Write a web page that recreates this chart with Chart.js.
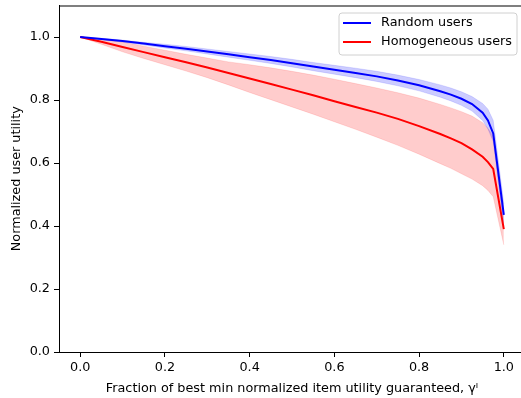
<!DOCTYPE html>
<html>
<head>
<meta charset="utf-8">
<script src="https://cdn.jsdelivr.net/npm/chart.js@4.4.0/dist/chart.umd.min.js"></script>
<style>
    html, body { margin: 0; padding: 0; overflow: hidden; background: #fff; }
    #wrap { position: absolute; left: 0; top: 0; width: 530px; height: 398px; }
</style>
</head>
<body>
<div id="wrap"><canvas id="utilityChart"></canvas></div>
<script>
// Fraction of best min normalized item utility (gamma)
const gammas = [0, 0.05, 0.1, 0.15, 0.2, 0.25, 0.3, 0.35, 0.4, 0.45, 0.5,
    0.55, 0.6, 0.65, 0.7, 0.75, 0.8, 0.85, 0.875, 0.9, 0.925, 0.95, 0.9625, 0.975, 1.0];

// Random users: mean and band
const randomMean = [1.0, 0.994, 0.987, 0.979, 0.971, 0.963, 0.954, 0.945, 0.936, 0.927, 0.917,
    0.906, 0.896, 0.886, 0.875, 0.862, 0.847, 0.828, 0.817, 0.804, 0.787, 0.760, 0.735, 0.694, 0.435];
const randomUpper = [1.0, 0.996, 0.990, 0.983, 0.977, 0.970, 0.962, 0.954, 0.946, 0.938, 0.929,
    0.919, 0.910, 0.901, 0.891, 0.879, 0.865, 0.848, 0.838, 0.826, 0.811, 0.789, 0.771, 0.735, 0.470];
const randomLower = [1.0, 0.992, 0.984, 0.975, 0.965, 0.956, 0.946, 0.936, 0.926, 0.916, 0.905,
    0.893, 0.882, 0.871, 0.859, 0.845, 0.829, 0.809, 0.797, 0.783, 0.765, 0.735, 0.708, 0.668, 0.400];

// Homogeneous users: mean and band
const homoMean = [1.0, 0.985, 0.968, 0.952, 0.936, 0.920, 0.903, 0.886, 0.868, 0.851, 0.833,
    0.815, 0.796, 0.778, 0.760, 0.740, 0.717, 0.692, 0.678, 0.663, 0.643, 0.620, 0.603, 0.581, 0.390];
const homoUpper = [1.0, 0.993, 0.984, 0.971, 0.958, 0.945, 0.933, 0.921, 0.912, 0.902, 0.891,
    0.879, 0.866, 0.852, 0.838, 0.823, 0.806, 0.786, 0.775, 0.763, 0.749, 0.728, 0.710, 0.685, 0.440];
const homoLower = [1.0, 0.977, 0.953, 0.932, 0.912, 0.892, 0.871, 0.848, 0.824, 0.801, 0.778,
    0.755, 0.731, 0.707, 0.682, 0.656, 0.628, 0.598, 0.583, 0.566, 0.549, 0.528, 0.513, 0.493, 0.340];

const xTicks = [0, 0.2, 0.4, 0.6, 0.8, 1.0];
const yTicks = [0, 0.2, 0.4, 0.6, 0.8, 1.0];

const FONT = { family: 'DejaVu Sans', size: 12.8 };

function pts(values) {
    return gammas.map((g, i) => ({ x: g, y: values[i] }));
}

function band(values, color) {
    return {
        data: pts(values),
        borderColor: color,
        borderWidth: 0.6,
        pointRadius: 0,
        fill: false,
        order: 2
    };
}

// top/right spines and in-axes legend, matplotlib style
const framePlugin = {
    id: 'frame',
    afterDraw(chart) {
        const { ctx, chartArea: a } = chart;
        ctx.save();
        ctx.strokeStyle = '#000';
        ctx.lineWidth = 1;
        ctx.strokeRect(a.left + 0.5, a.top + 0.5, a.right - a.left, a.bottom - a.top);

        const items = chart.data.datasets.filter(d => d.label);
        ctx.font = FONT.size + 'px ' + FONT.family;
        const textW = Math.max(...items.map(d => ctx.measureText(d.label).width));
        const w = 4 + 28 + 10 + textW + 5;
        const h = 42;
        const x0 = a.right - 8 - w;
        const y0 = a.top + 7.5;
        ctx.fillStyle = 'rgba(255,255,255,0.8)';
        ctx.strokeStyle = '#d0d0d0';
        ctx.beginPath();
        ctx.roundRect(x0, y0, w, h, 3);
        ctx.fill();
        ctx.stroke();
        items.forEach((d, i) => {
            const y = y0 + 10 + i * 19;
            ctx.strokeStyle = d.borderColor;
            ctx.lineWidth = 2;
            ctx.beginPath();
            ctx.moveTo(x0 + 4, y);
            ctx.lineTo(x0 + 32, y);
            ctx.stroke();
            ctx.fillStyle = '#000';
            ctx.textBaseline = 'middle';
            ctx.fillText(d.label, x0 + 42, y);
        });
        ctx.restore();
    }
};

const ctx = document.getElementById('utilityChart').getContext('2d');

new Chart(ctx, {
    type: 'line',
    data: {
        datasets: [
            band(randomLower, 'rgba(0, 0, 255, 0.2)'),
            Object.assign(band(randomUpper, 'rgba(0, 0, 255, 0.2)'), { fill: '-1', backgroundColor: 'rgba(0, 0, 255, 0.2)' }),
            band(homoLower, 'rgba(255, 0, 0, 0.2)'),
            Object.assign(band(homoUpper, 'rgba(255, 0, 0, 0.2)'), { fill: '-1', backgroundColor: 'rgba(255, 0, 0, 0.2)' }),
            {
                label: 'Random users',
                data: pts(randomMean),
                borderColor: '#0000ff',
                borderWidth: 2,
                pointRadius: 0,
                fill: false,
                order: 0
            },
            {
                label: 'Homogeneous users',
                data: pts(homoMean),
                borderColor: '#ff0000',
                borderWidth: 2,
                pointRadius: 0,
                fill: false,
                order: 1
            }
        ]
    },
    options: {
        responsive: true,
        maintainAspectRatio: false,
        animation: false,
        layout: { padding: { top: 5.5, right: 5, left: 0, bottom: 0 } },
        plugins: {
            legend: { display: false },
            tooltip: { enabled: false }
        },
        scales: {
            x: {
                type: 'linear',
                min: -0.05,
                max: 1.05,
                afterBuildTicks: s => { s.ticks = xTicks.map(v => ({ value: v })); },
                afterFit: s => { s.height = 46; s.paddingLeft = 0; s.paddingRight = 0; },
                grid: { drawOnChartArea: false, color: '#000', tickLength: 5 },
                border: { color: '#000' },
                ticks: {
                    color: '#000',
                    font: FONT,
                    padding: 3,
                    maxRotation: 0,
                    callback: v => v.toFixed(1)
                },
                title: {
                    display: true,
                    text: 'Fraction of best min normalized item utility guaranteed, γᴵ',
                    color: '#000',
                    font: FONT,
                    padding: { top: 0, bottom: 1.3 }
                }
            },
            y: {
                type: 'linear',
                min: 0,
                max: 1.1,
                afterBuildTicks: s => { s.ticks = yTicks.map(v => ({ value: v })); },
                afterFit: s => { s.width = 59; s.paddingTop = 0; s.paddingBottom = 0; },
                grid: { drawOnChartArea: false, color: '#000', tickLength: 5 },
                border: { color: '#000' },
                ticks: {
                    color: '#000',
                    font: FONT,
                    padding: 4,
                    callback: v => v.toFixed(1)
                },
                title: {
                    display: true,
                    text: 'Normalized user utility',
                    color: '#000',
                    font: FONT,
                    padding: { top: 9, bottom: 0 }
                }
            }
        }
    },
    plugins: [framePlugin]
});
</script>
</body>
</html>
